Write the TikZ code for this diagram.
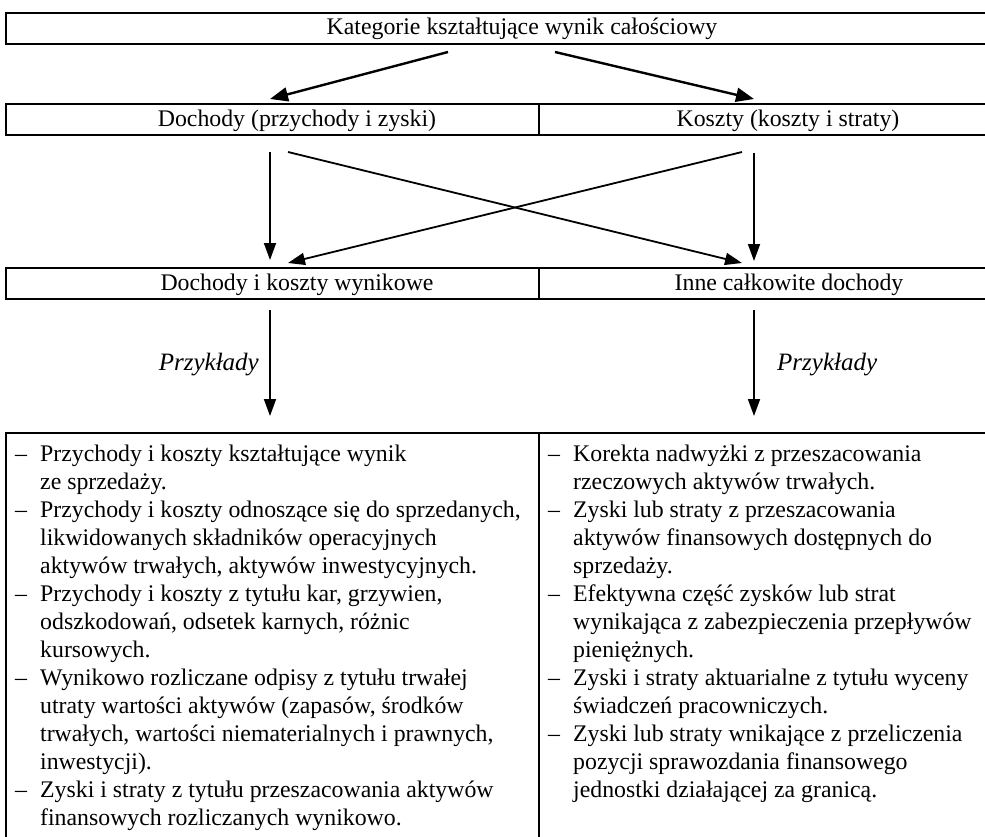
\documentclass[tikz,border=0pt]{standalone}
\usepackage{fontspec}
\setmainfont{Liberation Serif}
\usetikzlibrary{arrows.meta}
\newcommand{\itm}[1]{\makebox[25pt][l]{–}#1}
\newcommand{\cnt}[1]{\hspace*{25pt}#1}
\begin{document}
\begin{tikzpicture}[x=1pt,y=-1pt,
  cell/.style={draw,line width=2pt,inner sep=0pt,anchor=north west},
  lbl/.style={inner sep=0pt,anchor=base,font=\fontsize{23.8}{28}\selectfont},
  list/.style={inner sep=0pt,anchor=north west,align=left,font=\fontsize{23.8}{28}\selectfont},
  bigarrow/.style={line width=2.4pt,-{Triangle[length=18pt,width=14pt]}},
  arr/.style={line width=1.8pt,-{Triangle[length=17pt,width=12pt]}}]
\useasboundingbox (0,0) rectangle (985,837);
\clip (0,0) rectangle (985,837);
% row 1
\node[cell,minimum width=1100pt,minimum height=31pt] (top) at (5,12) {};
\node[lbl] (toptxt) at (522,35) {Kategorie kształtujące wynik całościowy};
% row 2
\node[cell,minimum width=533pt,minimum height=31pt] (doch) at (5,103) {};
\node[cell,minimum width=560pt,minimum height=31pt] (kosz) at (538,103) {};
\node[lbl] (dochtxt) at (297,127) {Dochody (przychody i zyski)};
\node[lbl] (kosztxt) at (788,127) {Koszty (koszty i straty)};
% row 3
\node[cell,minimum width=533pt,minimum height=31pt] (wyn) at (5,267) {};
\node[cell,minimum width=560pt,minimum height=31pt] (inne) at (538,267) {};
\node[lbl] (wyntxt) at (297,290) {Dochody i koszty wynikowe};
\node[lbl] (innetxt) at (789,290) {Inne całkowite dochody};
% row 4
\node[cell,minimum width=533pt,minimum height=500pt] (lbox) at (5,432) {};
\node[cell,minimum width=560pt,minimum height=500pt] (rbox) at (538,432) {};
% arrow coordinates
\coordinate (a1s) at (448,52);  \coordinate (a1e) at (270,99);
\coordinate (a2s) at (555,52);  \coordinate (a2e) at (754,99);
\coordinate (b1s) at (270,152); \coordinate (b1e) at (270,260);
\coordinate (b2s) at (288,152); \coordinate (b2e) at (742,263);
\coordinate (b3s) at (742,152); \coordinate (b3e) at (288,263);
\coordinate (b4s) at (754,153); \coordinate (b4e) at (754,261);
\coordinate (c1s) at (270,310); \coordinate (c1e) at (270,416);
\coordinate (c2s) at (754,310); \coordinate (c2e) at (754,416);
\draw[bigarrow] (a1s) -- (a1e);
\draw[bigarrow] (a2s) -- (a2e);
\draw[arr] (b1s) -- (b1e);
\draw[arr] (b2s) -- (b2e);
\draw[arr] (b3s) -- (b3e);
\draw[arr] (b4s) -- (b4e);
\draw[arr] (c1s) -- (c1e);
\draw[arr] (c2s) -- (c2e);
\node[lbl,anchor=base east,font=\fontsize{25}{28}\selectfont] (p1) at (259,370) {\itshape Przykłady};
\node[lbl,anchor=base west,font=\fontsize{25}{28}\selectfont] (p2) at (777,370) {\itshape Przykłady};
% lists
\node[list] (llist) at (15,445) {%
\itm{Przychody i koszty kształtujące wynik}\\
\cnt{ze sprzedaży.}\\
\itm{Przychody i koszty odnoszące się do sprzedanych,}\\
\cnt{likwidowanych składników operacyjnych}\\
\cnt{aktywów trwałych, aktywów inwestycyjnych.}\\
\itm{Przychody i koszty z tytułu kar, grzywien,}\\
\cnt{odszkodowań, odsetek karnych, różnic}\\
\cnt{kursowych.}\\
\itm{Wynikowo rozliczane odpisy z tytułu trwałej}\\
\cnt{utraty wartości aktywów (zapasów, środków}\\
\cnt{trwałych, wartości niematerialnych i prawnych,}\\
\cnt{inwestycji).}\\
\itm{Zyski i straty z tytułu przeszacowania aktywów}\\
\cnt{finansowych rozliczanych wynikowo.}};
\node[list] (rlist) at (548,445) {%
\itm{Korekta nadwyżki z przeszacowania}\\
\cnt{rzeczowych aktywów trwałych.}\\
\itm{Zyski lub straty z przeszacowania}\\
\cnt{aktywów finansowych dostępnych do}\\
\cnt{sprzedaży.}\\
\itm{Efektywna część zysków lub strat}\\
\cnt{wynikająca z zabezpieczenia przepływów}\\
\cnt{pieniężnych.}\\
\itm{Zyski i straty aktuarialne z tytułu wyceny}\\
\cnt{świadczeń pracowniczych.}\\
\itm{Zyski lub straty wnikające z przeliczenia}\\
\cnt{pozycji sprawozdania finansowego}\\
\cnt{jednostki działającej za granicą.}};
\end{tikzpicture}
\end{document}
